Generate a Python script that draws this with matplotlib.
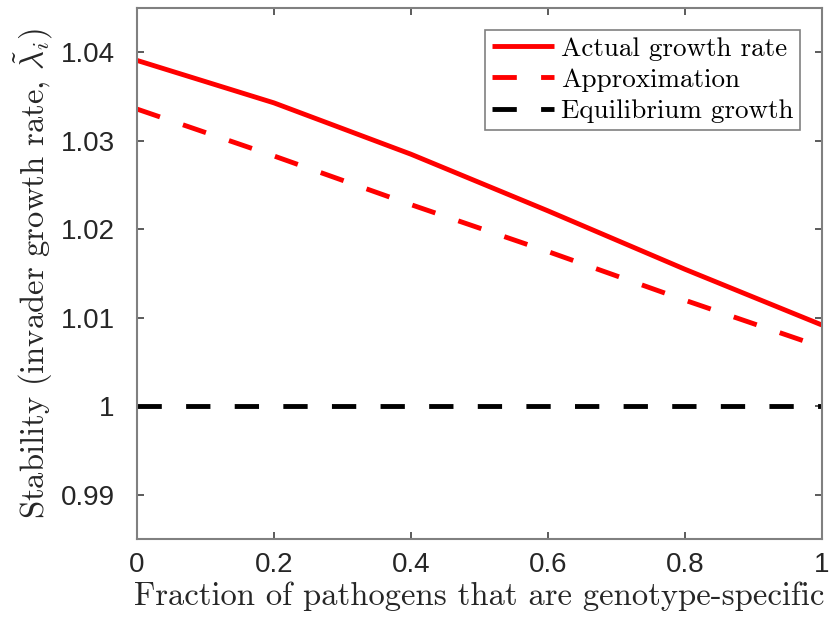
import matplotlib
matplotlib.use("Agg")
import matplotlib.pyplot as plt
from matplotlib import font_manager

# Data
fraction = [0, 0.2, 0.4, 0.6, 0.8, 1.0]
actual = [1.0391, 1.0343, 1.0285, 1.0221, 1.0155, 1.0092]
approx = [1.0336, 1.0283, 1.0228, 1.0175, 1.0120, 1.0067]
equilibrium = [1.0, 1.0, 1.0, 1.0, 1.0, 1.0]

xticks = [0, 0.2, 0.4, 0.6, 0.8, 1]
xticklabels = ["0", "0.2", "0.4", "0.6", "0.8", "1"]
yticks = [0.99, 1.0, 1.01, 1.02, 1.03, 1.04]
yticklabels = ["0.99", "1", "1.01", "1.02", "1.03", "1.04"]

plt.rcParams['mathtext.fontset'] = 'cm'

# plain Liberation Sans for the tick numbers (not the Narrow cut)
tickfont = None
for f in font_manager.findSystemFonts():
    if f.endswith('LiberationSans-Regular.ttf'):
        tickfont = font_manager.FontProperties(fname=f, size=20)
        break
if tickfont is None:
    tickfont = font_manager.FontProperties(family='Liberation Sans', size=20)

fig = plt.figure(figsize=(8.3, 6.3), dpi=100)
ax = fig.add_axes([0.165, 0.1444, 0.825, 0.8426])

ax.plot(fraction, actual, color='red', lw=3.5, solid_capstyle='butt', label='Actual growth rate')
ax.plot(fraction, approx, color='red', lw=3.5, dashes=(5, 5), dash_capstyle='butt', label='Approximation')
ax.plot(fraction, equilibrium, color='black', lw=3.5, dashes=(5, 5), dash_capstyle='butt', label='Equilibrium growth')

ax.set_xlim(0, 1)
ax.set_ylim(0.985, 1.045)
ax.set_xticks(xticks)
ax.set_xticklabels(xticklabels, fontproperties=tickfont)
ax.set_yticks(yticks)
ax.set_yticklabels(yticklabels, fontproperties=tickfont)

for sp in ax.spines.values():
    sp.set_color('#808080')
    sp.set_linewidth(1.5)
ax.tick_params(direction='in', length=5, width=1.2, color='#404040',
               top=True, right=True, labelcolor='#262626')
ax.tick_params(axis='x', pad=9)
ax.tick_params(axis='y', pad=16)

ax.set_xlabel('Fraction of pathogens that are genotype-specific',
              fontfamily='cmr10', fontsize=23.5, color='#262626', labelpad=3)
ax.set_ylabel(r'Stability (invader growth rate, $\tilde{\lambda}_i$)',
              fontfamily='cmr10', fontsize=23.5, color='#262626', labelpad=4)

leg = ax.legend(loc='upper right', prop={'family': 'cmr10', 'size': 19.5},
                fancybox=False, framealpha=1, edgecolor='#808080',
                handlelength=2.3, handletextpad=0.25, borderpad=0.25,
                labelspacing=0.27, borderaxespad=0.8)
leg.get_frame().set_linewidth(1.2)

fig.savefig('out.png', dpi=100)
